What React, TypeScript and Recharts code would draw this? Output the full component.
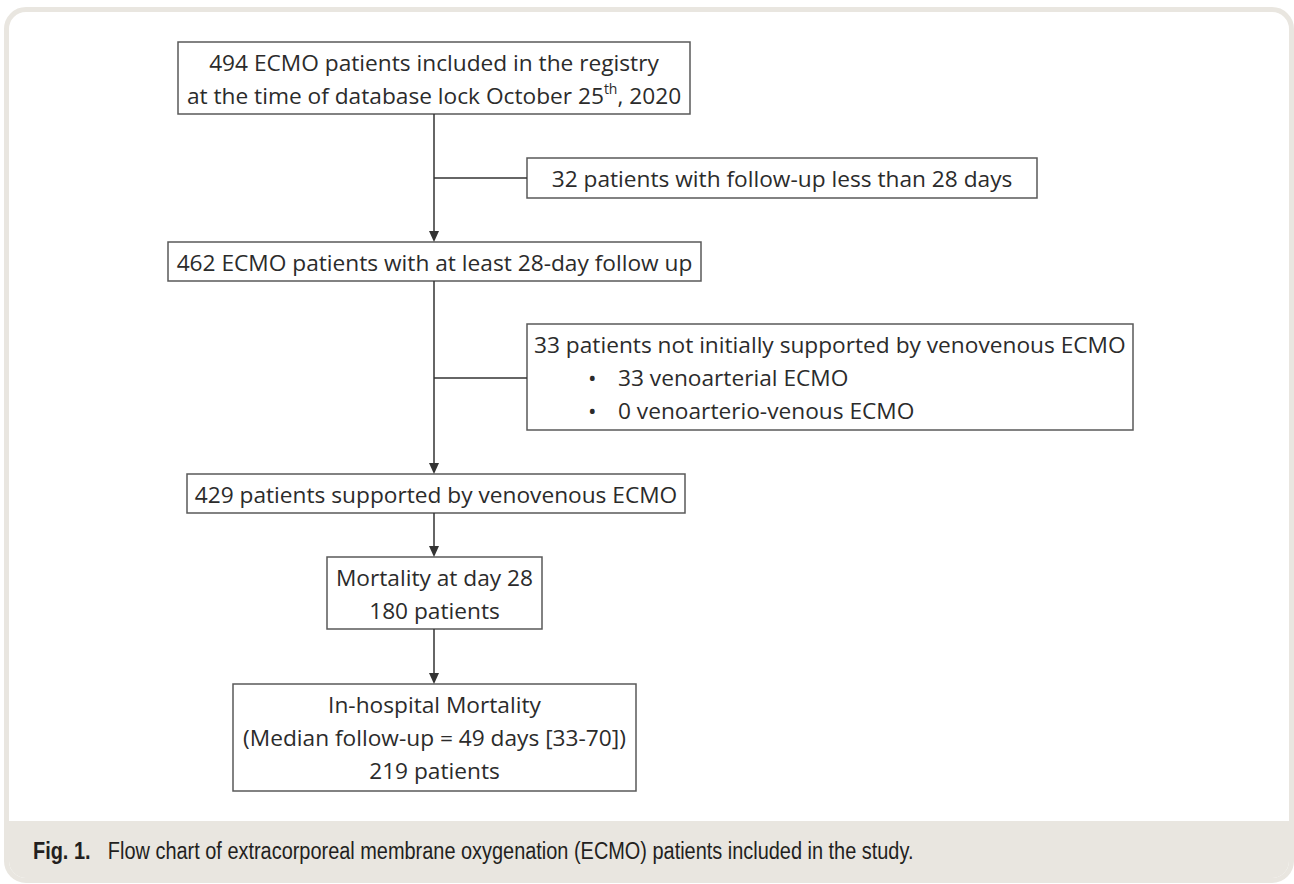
import React from "react";
import {
  ScatterChart,
  Scatter,
  XAxis,
  YAxis,
  ReferenceArea,
  ReferenceLine,
} from "recharts";

const W = 1294;
const H = 884;

// main column of the flow chart, text per box (^..^ = superscript)
const stepLines: string[][] = [
  ["494 ECMO patients included in the registry", "at the time of database lock October 25^th^, 2020"],
  ["462 ECMO patients with at least 28-day follow up"],
  ["429 patients supported by venovenous ECMO"],
  ["Mortality at day 28", "180 patients"],
  ["In-hospital Mortality", "(Median follow-up = 49 days [33-70])", "219 patients"],
];

// excluded patients, side boxes
const exclusionTitles = [
  "32 patients with follow-up less than 28 days",
  "33 patients not initially supported by venovenous ECMO",
];
const exclusionBullets: string[][] = [[], ["33 venoarterial ECMO", "0 venoarterio-venous ECMO"]];

const captionLabel = "Fig. 1.";
const captionText =
  "Flow chart of extracorporeal membrane oxygenation (ECMO) patients included in the study.";

// layout (page pixels)
const stepBoxes = [
  { x1: 178, x2: 690, y1: 42, y2: 114 },
  { x1: 168, x2: 701, y1: 242, y2: 281 },
  { x1: 187, x2: 685, y1: 474, y2: 513 },
  { x1: 327, x2: 542, y1: 557, y2: 629 },
  { x1: 233, x2: 636, y1: 684, y2: 791 },
];
const exclusionBoxes = [
  { x1: 527, x2: 1037, y1: 158, y2: 198, branchY: 178 },
  { x1: 527, x2: 1133, y1: 324, y2: 430, branchY: 378 },
];
const spineX = 434;

const FONT = "'Open Sans', sans-serif";
const FONT_SIZE = 22.7;
const TEXT_COLOR = "#2b2b2b";
const BOX_STROKE = "#5a5a5a";
const LINE_COLOR = "#333";
const LINE_GAP = 33;
const FIRST_LINE = 20;

type TextPoint = { x: number; y: number; text: string; anchor: "middle" | "start" };

const textPoints: TextPoint[] = [];
stepBoxes.forEach((b, i) => {
  stepLines[i].forEach((t, j) => {
    textPoints.push({ x: (b.x1 + b.x2) / 2, y: b.y1 + FIRST_LINE + j * LINE_GAP, text: t, anchor: "middle" });
  });
});
exclusionBoxes.forEach((b, i) => {
  const bullets = exclusionBullets[i];
  if (bullets.length === 0) {
    textPoints.push({ x: (b.x1 + b.x2) / 2, y: b.y1 + FIRST_LINE, text: exclusionTitles[i], anchor: "middle" });
  } else {
    textPoints.push({ x: b.x1 + 7, y: b.y1 + FIRST_LINE, text: exclusionTitles[i], anchor: "start" });
    bullets.forEach((t, j) => {
      const y = b.y1 + FIRST_LINE + (j + 1) * LINE_GAP;
      textPoints.push({ x: b.x1 + 61, y, text: "•", anchor: "start" });
      textPoints.push({ x: b.x1 + 91, y, text: t, anchor: "start" });
    });
  }
});

const arrowTips = stepBoxes.slice(1).map((b) => ({ x: spineX, y: b.y1 }));

const TextShape = (props: any) => {
  const { cx, cy, payload } = props;
  const parts = String(payload.text).split("^");
  return (
    <text
      x={cx}
      y={cy}
      textAnchor={payload.anchor}
      dominantBaseline="central"
      fontFamily={FONT}
      fontSize={FONT_SIZE}
      fill={TEXT_COLOR}
    >
      {parts.map((p, i) =>
        i % 2 === 1 ? (
          <tspan key={i} dy={-7} fontSize={14}>
            {p}
          </tspan>
        ) : (
          <tspan key={i} dy={i > 0 ? 7 : 0}>
            {p}
          </tspan>
        )
      )}
    </text>
  );
};

const ArrowHead = (props: any) => {
  const { cx, cy } = props;
  return (
    <polygon
      points={`${cx - 5},${cy - 11} ${cx + 5},${cy - 11} ${cx},${cy}`}
      fill={LINE_COLOR}
    />
  );
};

function FlowChart() {
  return (
    <ScatterChart width={W} height={H} margin={{ top: 0, right: 0, bottom: 0, left: 0 }}>
      <XAxis type="number" dataKey="x" domain={[0, W]} allowDataOverflow hide />
      <YAxis type="number" dataKey="y" domain={[0, H]} allowDataOverflow reversed hide />

      {/* spine between main boxes */}
      {stepBoxes.slice(1).map((b, i) => (
        <ReferenceLine
          key={`spine-${i}`}
          segment={[
            { x: spineX, y: stepBoxes[i].y2 },
            { x: spineX, y: b.y1 - 8 },
          ]}
          stroke={LINE_COLOR}
          strokeWidth={1.5}
        />
      ))}
      {/* branches to the exclusion boxes */}
      {exclusionBoxes.map((b, i) => (
        <ReferenceLine
          key={`branch-${i}`}
          segment={[
            { x: spineX, y: b.branchY },
            { x: b.x1, y: b.branchY },
          ]}
          stroke={LINE_COLOR}
          strokeWidth={1.5}
        />
      ))}

      {stepBoxes.map((b, i) => (
        <ReferenceArea
          key={`step-${i}`}
          x1={b.x1}
          x2={b.x2}
          y1={b.y1}
          y2={b.y2}
          fill="#fff"
          fillOpacity={1}
          stroke={BOX_STROKE}
          strokeWidth={1.5}
        />
      ))}
      {exclusionBoxes.map((b, i) => (
        <ReferenceArea
          key={`excl-${i}`}
          x1={b.x1}
          x2={b.x2}
          y1={b.y1}
          y2={b.y2}
          fill="#fff"
          fillOpacity={1}
          stroke={BOX_STROKE}
          strokeWidth={1.5}
        />
      ))}

      <Scatter data={arrowTips} shape={<ArrowHead />} isAnimationActive={false} />
      <Scatter data={textPoints} shape={<TextShape />} isAnimationActive={false} />
    </ScatterChart>
  );
}

export default function App() {
  return (
    <div style={{ position: "absolute", left: 0, top: 0, width: W, height: H, background: "#fff" }}>
      <div
        style={{
          position: "absolute",
          left: 4,
          top: 7,
          width: 1290,
          height: 876,
          boxSizing: "border-box",
          border: "5px solid #e9e6e0",
          borderRadius: 22,
          background: "#fff",
          overflow: "hidden",
        }}
      >
        <div
          style={{
            position: "absolute",
            left: 0,
            right: 0,
            bottom: 0,
            height: 57,
            background: "#e9e6e0",
            display: "flex",
            alignItems: "center",
            paddingLeft: 24,
            fontFamily: "'Liberation Sans', Arial, sans-serif",
            fontSize: 23,
            color: "#231f20",
          }}
        >
          <div
            style={{
              transform: "scaleX(0.866)",
              transformOrigin: "left center",
              whiteSpace: "nowrap",
              marginTop: 4,
            }}
          >
            <span style={{ fontWeight: 700, marginRight: 20 }}>{captionLabel}</span>
            <span>{captionText}</span>
          </div>
        </div>
      </div>
      <div style={{ position: "absolute", left: 0, top: 0 }}>
        <FlowChart />
      </div>
    </div>
  );
}
